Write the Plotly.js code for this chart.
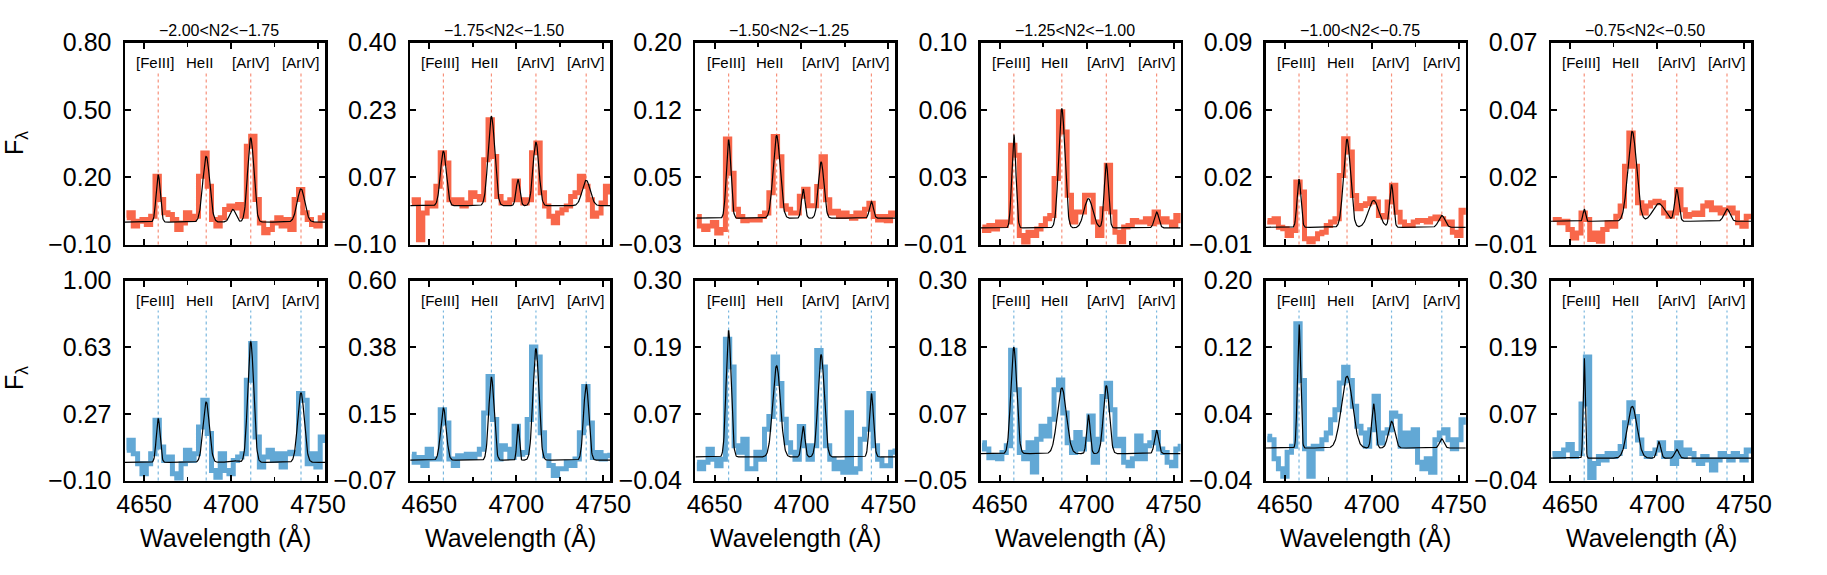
<!DOCTYPE html>
<html>
<head>
<meta charset="utf-8">
<script src="https://cdn.plot.ly/plotly-3.0.1.min.js"></script>
<style>
body { margin: 0; background: #fff; }
#chart { width: 1827px; height: 575px; }
</style>
</head>
<body>
<div id="chart"></div>
<script>
// wavelength bins (A)
const wave = [4640, 4642.5, 4645, 4647.5, 4650, 4652.5, 4655, 4657.5, 4660, 4662.5,
  4665, 4667.5, 4670, 4672.5, 4675, 4677.5, 4680, 4682.5, 4685, 4687.5,
  4690, 4692.5, 4695, 4697.5, 4700, 4702.5, 4705, 4707.5, 4710, 4712.5,
  4715, 4717.5, 4720, 4722.5, 4725, 4727.5, 4730, 4732.5, 4735, 4737.5,
  4740, 4742.5, 4745, 4747.5, 4750, 4752.5, 4755];

const binTitles = ["\u22122.00<N2<\u22121.75", "\u22121.75<N2<\u22121.50", "\u22121.50<N2<\u22121.25",
  "\u22121.25<N2<\u22121.00", "\u22121.00<N2<\u22120.75", "\u22120.75<N2<\u22120.50"];

const lineNames = ["[FeIII]", "HeII", "[ArIV]", "[ArIV]"];
const lineWave = [4658.1, 4685.7, 4711.3, 4740.2];
const labelWave = [4656.4, 4682.0, 4711.2, 4740.2];
// lines in the fitted model: the four above plus [FeIII] 4701
const fitWave = [4658.1, 4685.7, 4701.0, 4711.3, 4740.2];

// y ranges and tick labels, top row then bottom row
const yMin = [-0.10, -0.10, -0.03, -0.01, -0.01, -0.01, -0.10, -0.07, -0.04, -0.05, -0.04, -0.04];
const yMax = [0.80, 0.40, 0.20, 0.10, 0.09, 0.07, 1.00, 0.60, 0.30, 0.30, 0.20, 0.30];
const yTickText = [
  ["\u22120.10", "0.20", "0.50", "0.80"],
  ["\u22120.10", "0.07", "0.23", "0.40"],
  ["\u22120.03", "0.05", "0.12", "0.20"],
  ["\u22120.01", "0.03", "0.06", "0.10"],
  ["\u22120.01", "0.02", "0.06", "0.09"],
  ["\u22120.01", "0.02", "0.04", "0.07"],
  ["\u22120.10", "0.27", "0.63", "1.00"],
  ["\u22120.07", "0.15", "0.38", "0.60"],
  ["\u22120.04", "0.07", "0.19", "0.30"],
  ["\u22120.05", "0.07", "0.18", "0.30"],
  ["\u22120.04", "0.04", "0.12", "0.20"],
  ["\u22120.04", "0.07", "0.19", "0.30"]
];

// stacked spectra, top row (red)
const fluxTop1 = [0.019, 0.041, -0.018, 0.004, 0.011, -0.011, 0.026, 0.204, 0.10, 0.041, 0.034, 0.011, -0.033, -0.004, 0.041, 0.011, 0.026, 0.204, 0.308, 0.160, 0.011, -0.018, 0.019, 0.056, 0.071, 0.063, 0.078, 0.026, 0.338, 0.382, 0.10, -0.004, -0.048, -0.033, -0.004, 0.019, -0.018, 0.011, -0.033, 0.10, 0.145, 0.041, 0.011, -0.011, -0.018, 0.019, 0.03];
const fluxTop2 = [0.003, 0.011, -0.088, -0.022, 0.003, -0.005, 0.044, 0.127, 0.102, 0.011, 0.003, 0.011, -0.005, 0.003, 0.028, 0.019, 0.011, 0.110, 0.209, 0.118, 0.019, 0.003, 0.003, 0.011, 0.057, 0.011, 0.003, 0.011, 0.127, 0.151, 0.028, -0.005, -0.030, -0.046, -0.022, -0.014, -0.005, 0.019, 0.028, 0.069, 0.044, 0.011, -0.030, -0.022, 0.003, 0.044, 0.03];
const fluxTop3 = [0.002, -0.009, -0.013, -0.009, -0.005, -0.017, -0.013, 0.09, 0.051, 0.010, 0.002, -0.003, -0.002, -0.002, -0.002, 0.002, 0.006, 0.029, 0.093, 0.070, 0.014, 0.010, 0.006, 0.006, 0.025, 0.033, 0.014, 0.014, 0.036, 0.070, 0.021, 0.006, 0.008, 0.002, 0.006, 0.002, 0.000, 0.006, 0.002, 0.010, 0.017, 0.002, -0.002, 0.002, -0.003, 0.006, 0.004];
const fluxTop4 = [-0.0005, -0.0024, 0.0004, -0.0015, 0.0022, 0.0004, 0.0022, 0.044, 0.0386, -0.0051, -0.009, -0.0033, -0.0051, -0.0015, 0.0004, 0.004, 0.0058, 0.0259, 0.0623, 0.0513, 0.0168, 0.0022, 0.0077, 0.0077, 0.0168, 0.0168, 0.0022, -0.0051, 0.0095, 0.0331, 0.0077, -0.0033, -0.0087, -0.0005, 0.0004, 0.0031, 0.0022, 0.0022, 0.004, 0.0013, 0.0077, 0.0022, 0.004, 0.0022, 0.0004, 0.0058, 0.003];
const fluxTop5 = [0.0019, 0.0011, 0.0027, -0.0014, -0.0022, -0.0055, -0.0031, 0.0209, 0.016, -0.0072, -0.0088, -0.0072, -0.0047, -0.0039, -0.0006, 0.0011, 0.0027, 0.0242, 0.0424, 0.0358, 0.0143, 0.0077, 0.0093, 0.0102, 0.0126, 0.011, 0.0044, 0.0036, 0.011, 0.0193, 0.006, 0.0011, -0.0006, -0.0006, 0.0011, 0.0019, 0.0019, 0.0011, 0.0027, 0.0036, 0.0027, 0.0002, 0.0011, -0.0039, -0.0055, 0.0069, 0.006];
const fluxTop6 = [-0.0001, -0.0001, -0.0014, -0.0008, -0.0041, -0.0074, -0.0054, 0.0025, -0.0001, -0.008, -0.0054, -0.0087, -0.0041, -0.0014, -0.0028, 0.0012, 0.0052, 0.021, 0.0342, 0.021, 0.0065, 0.0025, 0.0052, 0.0065, 0.0071, 0.0065, 0.0025, 0.0012, 0.0025, 0.0117, 0.0038, 0.0012, 0.0019, 0.0025, 0.0019, 0.0052, 0.0065, 0.0038, 0.0045, 0.0025, 0.0038, 0.0045, 0.0025, -0.0014, -0.0028, 0.0012, 0.001];

// stacked spectra, bottom row (blue)
const fluxBot1 = [0.066, 0.121, 0.047, -0.008, -0.063, -0.008, 0.047, 0.231, 0.084, 0.010, 0.029, -0.063, -0.091, -0.008, 0.066, 0.010, 0.047, 0.194, 0.342, 0.158, -0.045, -0.082, 0.047, -0.045, -0.063, 0.010, 0.029, 0.047, 0.452, 0.654, 0.139, -0.026, 0.029, 0.066, 0.010, 0.047, -0.026, 0.047, 0.056, 0.047, 0.378, 0.342, -0.008, 0.047, -0.026, 0.139, 0.12];
const fluxBot2 = [0.018, -0.009, 0.007, -0.020, 0.035, 0.002, 0.002, 0.167, 0.123, 0.002, -0.020, 0.013, 0.007, 0.018, 0.007, 0.018, 0.035, 0.156, 0.278, 0.134, 0.002, 0.046, 0.035, 0.007, 0.112, 0.018, 0.024, 0.134, 0.377, 0.344, 0.090, 0.013, -0.020, -0.053, -0.031, -0.031, -0.009, -0.020, 0.002, 0.090, 0.245, 0.123, 0.007, 0.024, 0.002, 0.013, 0.015];
const fluxBot3 = [-0.009, -0.020, -0.009, 0.013, -0.004, -0.015, -0.004, 0.20, 0.153, 0.019, 0.008, 0.030, -0.020, -0.020, 0.008, -0.004, 0.047, 0.069, 0.170, 0.125, 0.064, 0.024, 0.008, -0.004, 0.052, 0.019, -0.004, 0.019, 0.181, 0.153, 0.019, -0.004, -0.020, -0.009, -0.026, 0.075, -0.026, -0.020, 0.030, 0.047, 0.108, 0.019, -0.004, -0.015, -0.015, 0.008, 0.01];
const fluxBot4 = [0.016, 0.005, -0.010, -0.007, -0.012, -0.001, 0.011, 0.178, 0.109, -0.001, -0.012, 0.016, -0.035, 0.022, 0.045, 0.028, 0.057, 0.109, 0.126, 0.068, 0.016, -0.001, 0.034, 0.005, 0.022, 0.063, -0.018, 0.022, 0.097, 0.120, 0.074, 0.011, 0.022, -0.018, -0.024, -0.012, 0.028, -0.012, 0.011, 0.016, 0.034, 0.005, -0.001, -0.018, -0.024, 0.005, 0.01];
const fluxBot5 = [0.013, 0.009, -0.014, -0.026, -0.035, -0.006, 0.001, 0.148, 0.080, -0.002, -0.035, 0.001, -0.002, 0.009, 0.017, 0.033, 0.045, 0.077, 0.096, 0.080, 0.049, 0.025, 0.017, 0.001, 0.021, 0.061, 0.005, 0.017, 0.021, 0.041, 0.037, 0.001, 0.017, 0.001, 0.021, -0.018, -0.026, -0.014, -0.030, 0.009, 0.017, 0.021, 0.009, -0.002, 0.009, 0.033, 0.03];
const fluxBot6 = [0.001, 0.006, 0.001, 0.012, 0.021, 0.001, 0.006, 0.09, 0.17, -0.035, -0.011, 0.001, -0.005, 0.006, 0.001, 0.006, 0.018, 0.058, 0.092, 0.069, 0.029, 0.006, 0.001, 0.006, 0.012, 0.024, 0.001, 0.006, -0.011, 0.024, 0.001, 0.012, 0.006, -0.005, -0.011, 0.001, -0.005, -0.022, -0.005, 0.006, 0.001, -0.005, 0.006, 0.001, -0.005, 0.012, 0.01];

// gaussian fit: continuum, peak heights and widths (A) for each line in fitWave
const fitCont = [0, -0.004, 0, -0.001, -0.0015, -0.0008, 0, -0.002, 0, -0.003, -0.001, -0.002];
const fitAmp = [
  [0.21, 0.293, 0.056, 0.375, 0.148],
  [0.135, 0.221, 0.065, 0.157, 0.063],
  [0.089, 0.094, 0.033, 0.064, 0.019],
  [0.051, 0.065, 0.016, 0.035, 0.0087],
  [0.0237, 0.0436, 0.0133, 0.0211, 0.0059],
  [0.0049, 0.0356, 0.007, 0.0125, 0.0049],
  [0.24, 0.332, 0.01, 0.664, 0.382],
  [0.175, 0.278, 0.12, 0.374, 0.254],
  [0.215, 0.155, 0.052, 0.174, 0.108],
  [0.186, 0.115, 0.068, 0.119, 0.041],
  [0.149, 0.086, 0.053, 0.032, 0.011],
  [0.172, 0.088, 0.028, 0.015, 0]
];
const fitSigma = [
  [1.2, 2.0, 1.7, 1.8, 2.2],
  [1.7, 1.9, 1.1, 1.7, 2.3],
  [1.3, 2.0, 1.0, 1.6, 1.1],
  [1.2, 1.8, 2.5, 1.2, 1.3],
  [1.1, 2.0, 3.0, 1.1, 1.8],
  [0.7, 2.5, 3.5, 1.2, 1.7],
  [1.1, 1.8, 2.6, 1.7, 1.9],
  [1.6, 1.5, 0.7, 1.7, 1.5],
  [1.4, 2.2, 1.0, 1.8, 1.2],
  [1.7, 2.6, 1.0, 1.7, 1.2],
  [0.9, 3.2, 1.1, 1.8, 1.3],
  [0.6, 2.8, 1.1, 1.2, 1.3]
];

const fluxes = [fluxTop1, fluxTop2, fluxTop3, fluxTop4, fluxTop5, fluxTop6,
  fluxBot1, fluxBot2, fluxBot3, fluxBot4, fluxBot5, fluxBot6];

const W = 1827, H = 575;
const font = '"Liberation Sans", Arial, Helvetica, sans-serif';
const red = '#f8674a', blue = '#62a8d5';
const redDash = '#f7917b', blueDash = '#7ab8df';
const xRange = [4639, 4754];

// model grid for the fit curves
const fineWave = [];
for (let w = xRange[0]; w <= xRange[1]; w += 0.2) fineWave.push(w);

const traces = [];
const layout = {
  width: W, height: H,
  margin: {l: 0, r: 0, t: 0, b: 0},
  paper_bgcolor: '#fff', plot_bgcolor: 'rgba(0,0,0,0)',
  showlegend: false,
  font: {family: font, color: '#000'},
  shapes: [], annotations: []
};

for (let k = 0; k < 12; k++) {
  const row = Math.floor(k / 6), col = k % 6;
  const n = k === 0 ? '' : String(k + 1);
  const xa = 'x' + n, ya = 'y' + n;
  const left = 125 + col * 285.2, right = left + 200;
  const top = row === 0 ? 42.5 : 280.5;
  const bottom = row === 0 ? 244.5 : 480.5;
  const col1 = row === 0 ? red : blue;
  const dashCol = row === 0 ? redDash : blueDash;

  const step = (yMax[k] - yMin[k]) / 3;
  const tv = [0, 1, 2, 3].map(i => yMin[k] + i * step);
  const eps = (yMax[k] - yMin[k]) * 1e-6;

  layout['xaxis' + n] = {
    domain: [left / W, right / W], anchor: ya, range: xRange,
    showline: true, linewidth: 2.5, linecolor: '#000', mirror: 'ticks',
    ticks: 'inside', ticklen: 6, tickwidth: 2, tickcolor: '#000',
    tickvals: [4650, 4700, 4750], ticktext: ['4650', '4700', '4750'],
    showticklabels: row === 1, tickfont: {size: 25},
    minor: {tickvals: [4675, 4725], ticks: 'inside', ticklen: 4, tickwidth: 1.5, tickcolor: '#000'},
    showgrid: false, zeroline: false, fixedrange: true
  };
  layout['yaxis' + n] = {
    domain: [1 - bottom / H, 1 - top / H], anchor: xa,
    range: [yMin[k] - eps, yMax[k] + eps],
    showline: true, linewidth: 2.5, linecolor: '#000', mirror: 'ticks',
    ticks: 'inside', ticklen: 6, tickwidth: 2, tickcolor: '#000',
    tickvals: tv, ticktext: yTickText[k], tickfont: {size: 25},
    ticklabelstandoff: 6,
    showgrid: false, zeroline: false, fixedrange: true
  };

  // dashed line markers
  lineWave.forEach(w => {
    layout.shapes.push({
      type: 'line', xref: xa, yref: ya + ' domain', layer: 'below',
      x0: w, x1: w, y0: 0, y1: 1 - 30 / (bottom - top),
      line: {color: dashCol, width: 1.2, dash: '3px,3px'}
    });
  });
  lineNames.forEach((t, i) => {
    layout.annotations.push({
      text: t, xref: xa, yref: ya + ' domain', x: labelWave[i], y: 1,
      yshift: -20, xanchor: 'center', yanchor: 'middle', showarrow: false,
      font: {size: 15}
    });
  });

  traces.push({
    type: 'scatter', mode: 'lines', x: wave, y: fluxes[k],
    xaxis: xa, yaxis: ya, line: {shape: 'hvh', color: col1, width: 5},
    hoverinfo: 'skip'
  });

  const model = fineWave.map(w => {
    let f = fitCont[k];
    fitWave.forEach((c, i) => {
      const s = fitSigma[k][i];
      f += fitAmp[k][i] * Math.exp(-0.5 * ((w - c) / s) ** 2);
    });
    return f;
  });
  traces.push({
    type: 'scatter', mode: 'lines', x: fineWave, y: model,
    xaxis: xa, yaxis: ya, line: {color: '#000', width: 1.2},
    hoverinfo: 'skip'
  });

  if (row === 0) {
    layout.annotations.push({
      text: binTitles[col], xref: 'paper', yref: 'paper',
      x: (left + right) / 2 / W, y: 1 - 30 / H, xshift: -6,
      xanchor: 'center', yanchor: 'middle', showarrow: false, font: {size: 16}
    });
  } else {
    layout.annotations.push({
      text: 'Wavelength (\u00c5)', xref: 'paper', yref: 'paper',
      x: (left + right) / 2 / W, y: 1 - 537 / H,
      xanchor: 'center', yanchor: 'middle', showarrow: false, font: {size: 25}
    });
  }
}

// F_lambda axis labels
[143, 378].forEach(yc => {
  layout.annotations.push({
    text: 'F<sub>\u03bb</sub>', xref: 'paper', yref: 'paper',
    x: 16 / W, y: 1 - yc / H, xanchor: 'center', yanchor: 'middle',
    textangle: -90, showarrow: false, font: {size: 25}
  });
});

Plotly.newPlot('chart', traces, layout, {displayModeBar: false, staticPlot: true});
</script>
</body>
</html>
